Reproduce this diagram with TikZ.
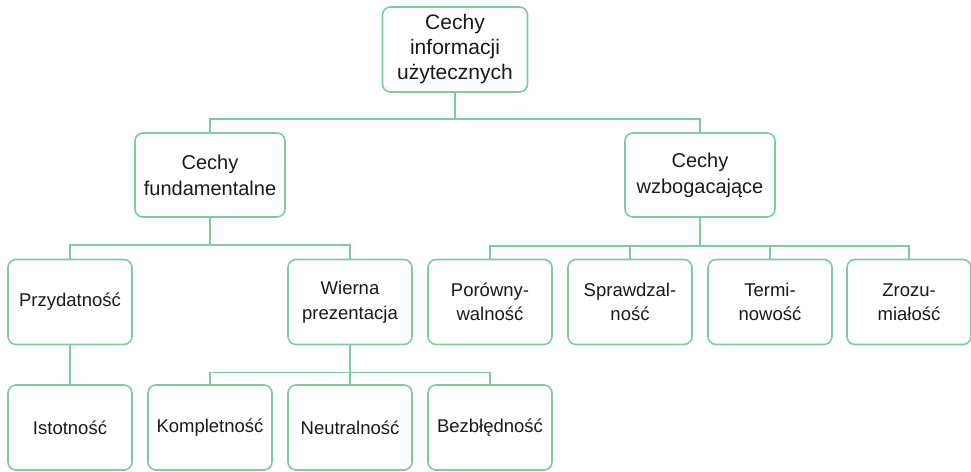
\documentclass[tikz,border=0pt]{standalone}
\usepackage{fontspec}
\setmainfont{Liberation Sans}
\usepackage{tikz}
\usetikzlibrary{shapes,arrows}
\definecolor{mint}{RGB}{126,203,160}
\definecolor{ink}{RGB}{26,26,26}
\newcommand{\toptxt}{\fontsize{21pt}{25pt}\selectfont}
\newcommand{\bigtxt}{\fontsize{20pt}{26pt}\selectfont}
\newcommand{\smalltxt}{\fontsize{18.5pt}{24.5pt}\selectfont}
\tikzset{
  box/.style={
    draw=mint,line width=1.6pt,fill=white,rounded corners=8pt,
    align=center,text=ink,inner sep=0pt,
  },
  topbox/.style={box,font=\toptxt,minimum width=145pt,minimum height=85pt},
  midbox/.style={box,font=\bigtxt,minimum width=150pt,minimum height=84pt},
  leafbox/.style={box,font=\smalltxt,minimum width=124pt,minimum height=85pt},
  conn/.style={draw=mint,line width=1.6pt},
}

\begin{document}
\begin{tikzpicture}[x=1pt,y=-1pt]
        \useasboundingbox (0,0) rectangle (971,471);
        % top
        \node[topbox] (root) at (455,49.5) {Cechy\\informacji\\użytecznych};
        % second level
        \node[midbox] (fund) at (210,175) {Cechy\\fundamentalne};
        \node[midbox] (wzbog) at (700,175) {Cechy\\wzbogacające};
        % third level
        \node[leafbox] (przyd) at (70,302) {Przydatność};
        \node[leafbox] (wierna) at (350,302) {Wierna\\prezentacja};
        \node[leafbox] (porown) at (490,302) {Porówny-\\walność};
        \node[leafbox] (sprawdz) at (630,302) {Sprawdzal-\\ność};
        \node[leafbox] (termin) at (770,302) {Termi-\\nowość};
        \node[leafbox] (zrozum) at (909,302) {Zrozu-\\miałość};
        % fourth level
        \node[leafbox] (istot) at (70,427.5) {Istotność};
        \node[leafbox] (kompl) at (210,427.5) {Kompletność};
        \node[leafbox] (neutr) at (350,427.5) {Neutralność};
        \node[leafbox] (bezbl) at (490,427.5) {Bezbłędność};

        % connectors
        \foreach \child in {fund,wzbog}
            \draw[conn] (root.south) -- ++(0,26) -| (\child.north);
        \foreach \child in {przyd,wierna}
            \draw[conn] (fund.south) -- ++(0,27) -| (\child.north);
        \foreach \child in {porown,sprawdz,termin,zrozum}
            \draw[conn] (wzbog.south) -- ++(0,28) -| (\child.north);
        \draw[conn] (przyd.south) -- (istot.north);
        \foreach \child in {kompl,neutr,bezbl}
            \draw[conn] (wierna.south) -- ++(0,27) -| (\child.north);
    \end{tikzpicture}
\end{document}
